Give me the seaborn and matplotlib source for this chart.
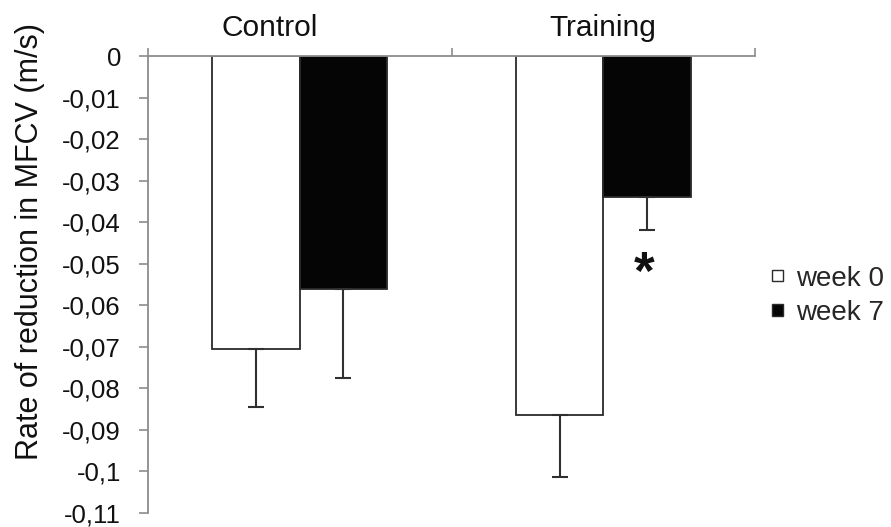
import matplotlib
matplotlib.use("Agg")
import matplotlib.pyplot as plt
import matplotlib.ticker as mticker
from matplotlib.transforms import ScaledTranslation
import pandas as pd
import seaborn as sns

# Group means and standard deviations (m/s)
groups = ["Control", "Training"]
weeks = ["week 0", "week 7"]
mean_week0 = [-0.0706, -0.0863]
mean_week7 = [-0.0560, -0.0340]
sd_week0 = [0.0140, 0.0151]
sd_week7 = [0.0216, 0.0079]
y_ticks = [0, -0.01, -0.02, -0.03, -0.04, -0.05, -0.06, -0.07, -0.08, -0.09, -0.10, -0.11]
y_tick_labels = ["0", "-0,01", "-0,02", "-0,03", "-0,04", "-0,05", "-0,06",
                 "-0,07", "-0,08", "-0,09", "-0,1", "-0,11"]
significant = [(1, "week 7")]  # Training, week 7 differs from week 0

sns.set_style("white")
plt.rcParams["font.family"] = ["Liberation Sans", "DejaVu Sans"]

df = pd.DataFrame({
    "group": groups * 2,
    "week": [weeks[0]] * 2 + [weeks[1]] * 2,
    "value": mean_week0 + mean_week7,
})
sds = {weeks[0]: sd_week0, weeks[1]: sd_week7}

fig = plt.figure(figsize=(8.91, 5.27), dpi=100)
ax = fig.add_axes([0.1661, 0.0266, 0.6813, 0.8671])

axis_grey = "#8c8c8c"
edge = "#2a2a2a"

sns.barplot(data=df, x="group", y="value", hue="week", order=groups,
            hue_order=weeks, palette={"week 0": "white", "week 7": "#050505"},
            saturation=1, width=0.576, edgecolor=edge, linewidth=1.3,
            errorbar=None, ax=ax)

# One-sided (downward) error bars
bar_centres = {}
for week, container in zip(weeks, ax.containers):
    for gi, bar in enumerate(container):
        x = bar.get_x() + bar.get_width() / 2
        m = bar.get_y() + bar.get_height()
        sd = sds[week][gi]
        bar_centres[(gi, week)] = (x, m - sd)
        ax.errorbar(x, m, yerr=[[sd], [0]], fmt="none", ecolor="#303030",
                    elinewidth=1.5, capsize=5.5, capthick=1.5, zorder=3)

for key in significant:
    x, y = bar_centres[key]
    ax.annotate("*", xy=(x, y), xytext=(-2, -14), textcoords="offset points",
                ha="center", va="top", fontsize=38, fontweight="bold",
                color="#111111")

ax.set_ylim(-0.11, 0)
ax.set_xlim(-0.5, 1.5)
ax.set_yticks(y_ticks)
ax.set_yticklabels(y_tick_labels)

# Category axis sits at y = 0 along the top
ax.xaxis.tick_top()
ax.set_xticks(range(len(groups)))
ax.set_xticklabels(groups)
ax.xaxis.set_minor_locator(mticker.FixedLocator([-0.5, 0.5, 1.5]))
ax.tick_params(axis="x", which="major", length=0, pad=10, labelsize=21.5,
               labelcolor="#111111")
ax.tick_params(axis="x", which="minor", length=6, width=1.2, color=axis_grey,
               direction="out", top=True, bottom=False)
ax.tick_params(axis="y", length=6.5, width=1.2, color=axis_grey, pad=13,
               labelsize=18.5, labelcolor="#111111", left=True)
ax.set_xlabel("")

# The first group name sits a little left of its category centre
first = ax.get_xticklabels()[0]
first.set_transform(first.get_transform()
                    + ScaledTranslation(-0.30, 0, fig.dpi_scale_trans))

for side in ["right", "bottom"]:
    ax.spines[side].set_visible(False)
for side in ["left", "top"]:
    ax.spines[side].set_color(axis_grey)
    ax.spines[side].set_linewidth(1.3)

ax.set_ylabel("Rate of reduction in MFCV (m/s)", fontsize=22, color="#111111",
              va="center")
ax.yaxis.set_label_coords(-0.194, 0.595)

sns.move_legend(ax, loc="center left", bbox_to_anchor=(1.028, 0.475),
                title=None, frameon=False, fontsize=20, handlelength=0.4,
                handleheight=0.24, handletextpad=0.45, labelspacing=0.3,
                borderaxespad=0, borderpad=0)
for h in ax.get_legend().legend_handles:
    h.set_edgecolor(edge)
    h.set_linewidth(1.0)

fig.savefig("out.png", dpi=100)
